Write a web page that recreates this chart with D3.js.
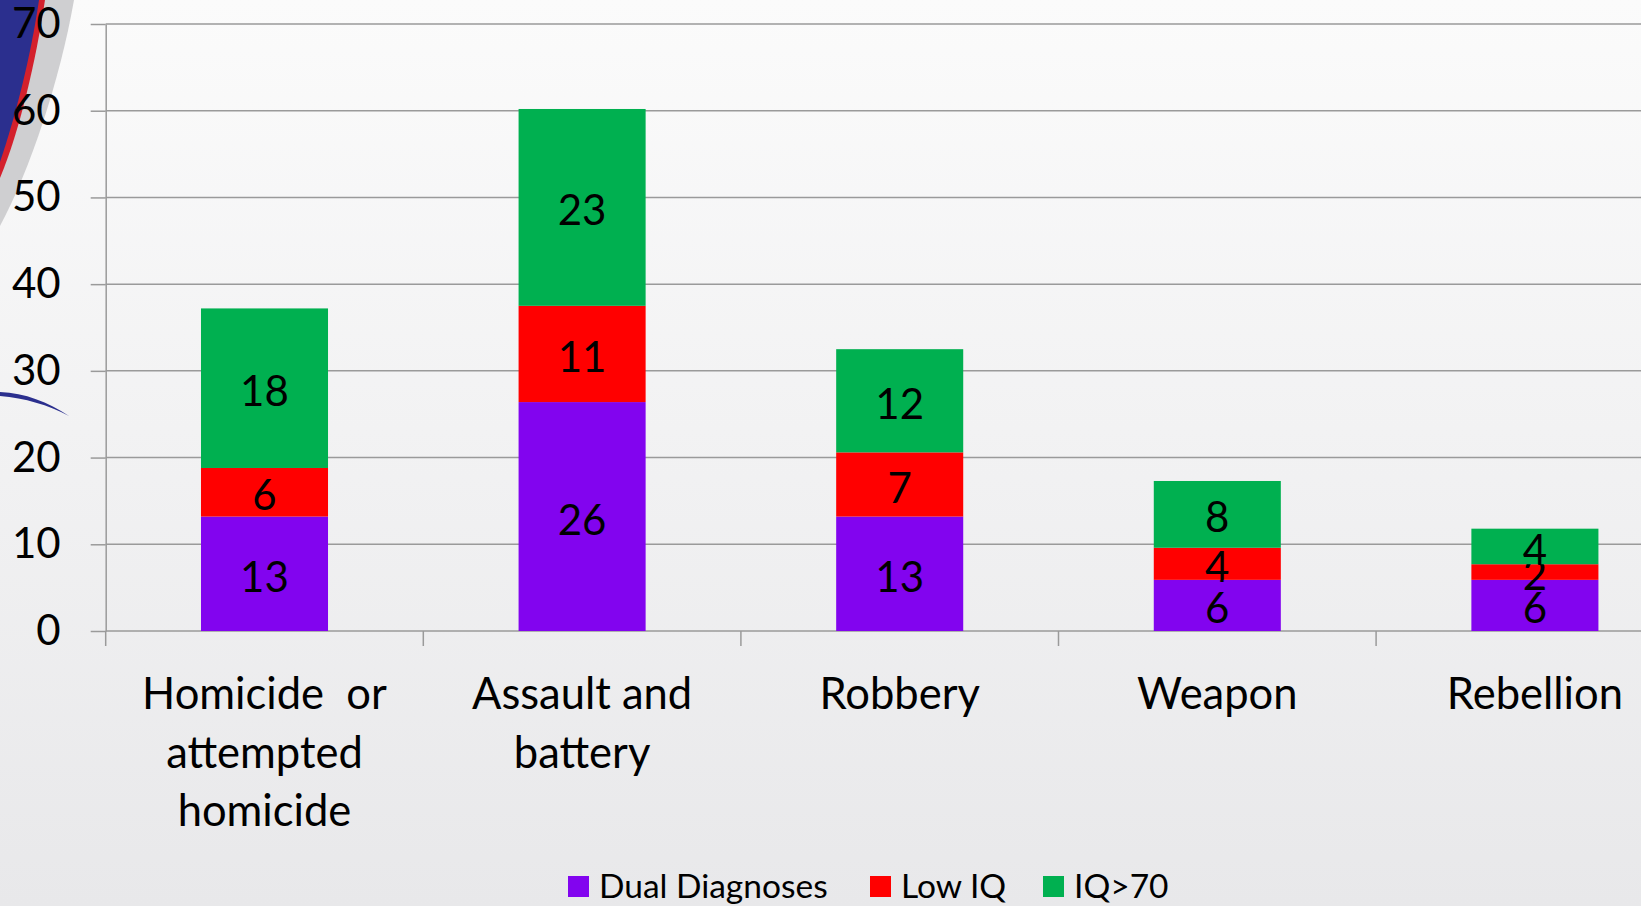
<!DOCTYPE html>
<html>
<head>
<meta charset="utf-8">
<script src="https://cdn.jsdelivr.net/npm/d3@7"></script>
<style>
  html, body { margin: 0; padding: 0; overflow: hidden; }
  svg { display: block; font-family: Lato, "Open Sans", sans-serif; }
</style>
</head>
<body>
<div id="chart"></div>
<script>
const categories = [["Homicide  or", "attempted", "homicide"], ["Assault and", "battery"], ["Robbery"], ["Weapon"], ["Rebellion"]];
const seriesNames = ["Dual Diagnoses", "Low IQ", "IQ>70"];
const dualDiagnoses = [13.2, 26.4, 13.2, 5.9, 5.9];
const lowIQ = [5.6, 11.1, 7.4, 3.7, 1.8];
const iqOver70 = [18.4, 22.7, 11.9, 7.7, 4.1];
const yTicks = [0, 10, 20, 30, 40, 50, 60, 70];
const colors = ["#8204ef", "#ff0000", "#00b050"];

const width = 1641, height = 906;
const margin = { top: 24, left: 105.7, bottom: 275 };
const chartHeight = height - margin.top - margin.bottom;
const axisLength = 1588;

const svg = d3.select("#chart").append("svg")
  .attr("width", width)
  .attr("height", height);

// background
const grad = svg.append("defs").append("linearGradient")
  .attr("id", "bg").attr("x1", 0).attr("y1", 0).attr("x2", 0).attr("y2", 1);
grad.append("stop").attr("offset", "0%").attr("stop-color", "#fbfbfb");
grad.append("stop").attr("offset", "100%").attr("stop-color", "#e8e8ea");
svg.append("rect").attr("width", width).attr("height", height).attr("fill", "url(#bg)");

// slide template decoration, top left
svg.append("path")
  .attr("d", "M0,0 L74,0 C60,80 30,170 0,226 Z")
  .attr("fill", "#cfcfd1");
svg.append("path")
  .attr("d", "M0,0 L45,0 C36,60 20,130 0,178 Z")
  .attr("fill", "#d4202c");
svg.append("path")
  .attr("d", "M0,0 L39,0 C31,55 16,115 0,162 Z")
  .attr("fill", "#2b2f8e");
svg.append("path")
  .attr("d", "M0,392 C25,393 48,402 69,416 C48,405 25,398 0,396 Z")
  .attr("fill", "#2b2f8e");

const g = svg.append("g")
  .attr("transform", `translate(${margin.left}, ${margin.top})`);

const yScale = d3.scaleLinear()
  .domain([0, 70])
  .range([chartHeight, 0]);

const xScale = d3.scaleBand()
  .domain(d3.range(categories.length))
  .range([0, axisLength])
  .paddingInner(0.6)
  .paddingOuter(0.3);

// gridlines
g.append("g")
  .selectAll("line")
  .data(yTicks)
  .join("line")
  .attr("x1", 0)
  .attr("x2", width)
  .attr("y1", d => yScale(d))
  .attr("y2", d => yScale(d))
  .style("stroke", "#9a9a9a")
  .style("stroke-width", 1.5);

const yAxis = g.append("g")
  .call(d3.axisLeft(yScale).tickValues(yTicks).tickSize(15).tickSizeOuter(0).tickPadding(30));

yAxis.select(".domain").style("stroke", "#9a9a9a").style("stroke-width", 1.5);
yAxis.selectAll("line").style("stroke", "#9a9a9a").style("stroke-width", 1.5);
yAxis.selectAll("text")
  .style("font-family", "Lato")
  .style("font-size", "42px")
  .style("fill", "#000");

// x axis ticks at category boundaries
const step = xScale.step();
const bounds = categories.map((c, i) => xScale(i) - step * 0.3);
g.append("g")
  .selectAll("line")
  .data(bounds)
  .join("line")
  .attr("x1", d => d).attr("x2", d => d)
  .attr("y1", chartHeight).attr("y2", chartHeight + 15)
  .style("stroke", "#9a9a9a")
  .style("stroke-width", 1.5);

g.append("g")
  .selectAll("text")
  .data(categories)
  .join("text")
  .attr("x", (d, i) => xScale(i) + xScale.bandwidth() / 2)
  .attr("y", chartHeight + 78)
  .attr("text-anchor", "middle")
  .style("font-size", "43.5px")
  .style("white-space", "pre")
  .attr("xml:space", "preserve")
  .selectAll("tspan")
  .data(d => d)
  .join("tspan")
  .attr("x", function() { return this.parentNode.getAttribute("x"); })
  .attr("dy", (d, i) => i === 0 ? 0 : 58.5)
  .text(d => d);

// stacked bars
const table = categories.map((c, i) => ({ i, s0: dualDiagnoses[i], s1: lowIQ[i], s2: iqOver70[i] }));
const stacked = d3.stack().keys(["s0", "s1", "s2"])(table);

const layers = g.append("g")
  .selectAll("g")
  .data(stacked)
  .join("g")
  .attr("fill", (d, k) => colors[k]);

layers.selectAll("rect")
  .data(d => d)
  .join("rect")
  .attr("x", d => xScale(d.data.i))
  .attr("width", xScale.bandwidth())
  .attr("y", d => yScale(d[1]))
  .attr("height", d => yScale(d[0]) - yScale(d[1]));

layers.selectAll("text")
  .data(d => d.map(p => ({ p, v: p[1] - p[0] })))
  .join("text")
  .attr("x", d => xScale(d.p.data.i) + xScale.bandwidth() / 2)
  .attr("y", d => yScale((d.p[0] + d.p[1]) / 2))
  .attr("dy", "0.43em")
  .attr("text-anchor", "middle")
  .style("font-size", "42px")
  .style("fill", "#000")
  .text(d => Math.round(d.v));

// legend
const legend = svg.append("g")
  .attr("transform", "translate(568, 876)");
const legendX = [0, 302, 475];
const item = legend.selectAll("g")
  .data(seriesNames)
  .join("g")
  .attr("transform", (d, i) => `translate(${legendX[i]}, 0)`);
item.append("rect")
  .attr("width", 21)
  .attr("height", 21)
  .attr("fill", (d, i) => colors[i]);
item.append("text")
  .attr("x", 31)
  .attr("y", 22)
  .style("font-size", "33.5px")
  .text(d => d);
</script>
</body>
</html>
